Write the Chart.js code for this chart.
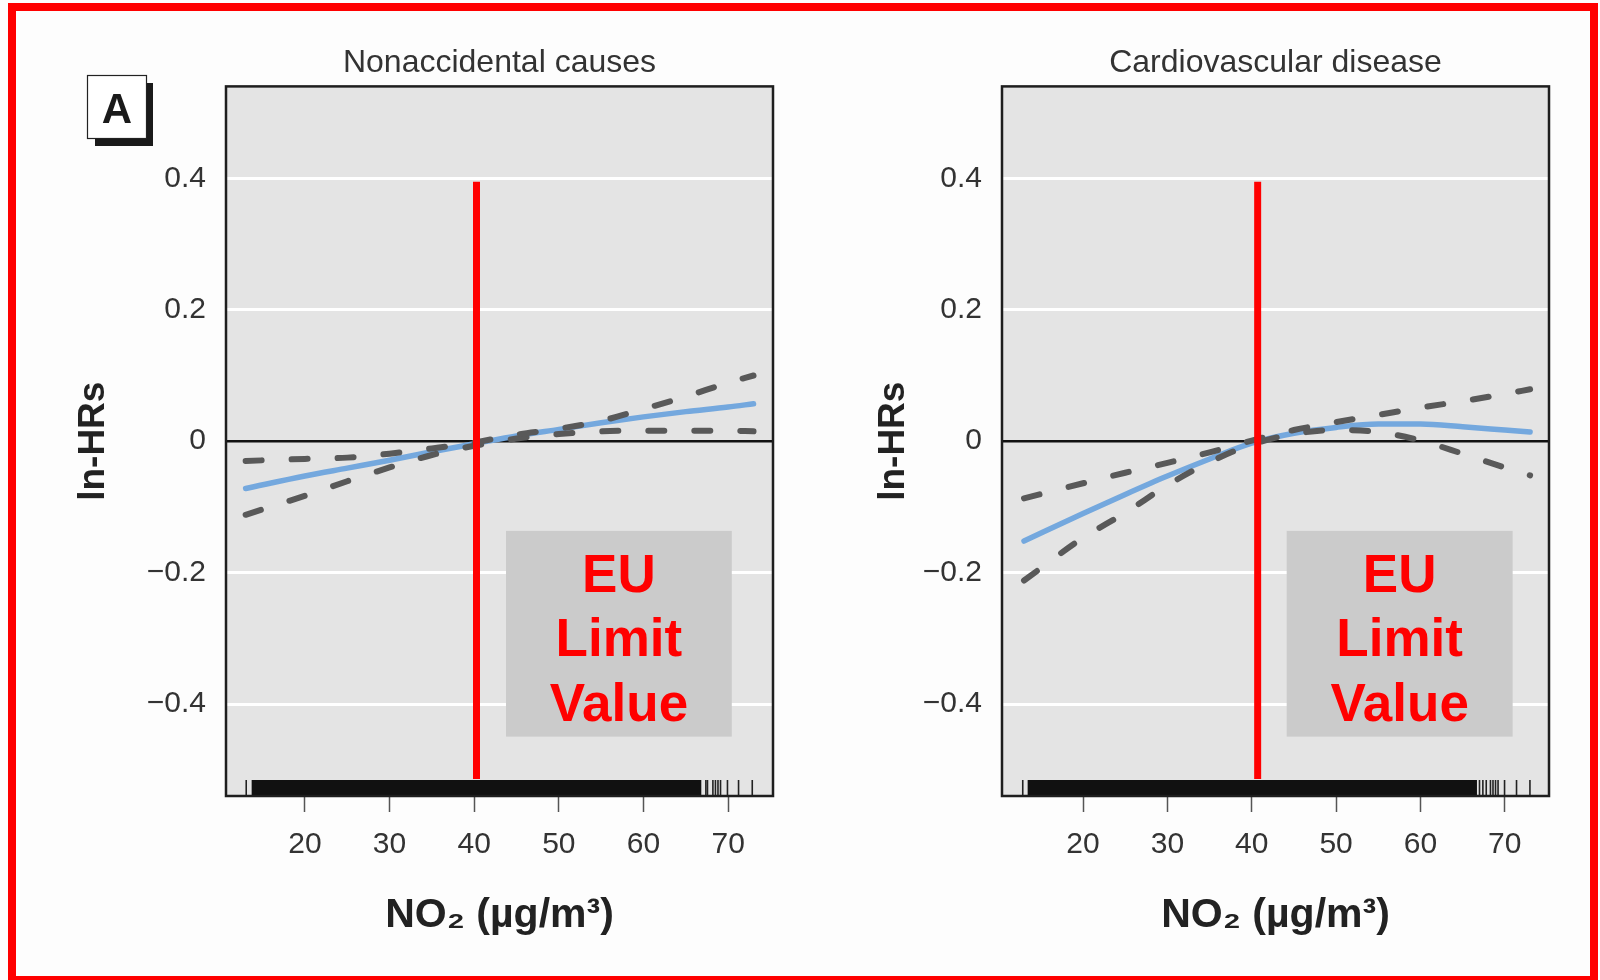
<!DOCTYPE html>
<html>
<head>
<meta charset="utf-8">
<title>ln-HRs vs NO2</title>
<script src="https://cdn.jsdelivr.net/npm/chart.js@4.4.1/dist/chart.umd.min.js"></script>
<style>
  html, body { margin: 0; padding: 0; background: #fdfdfd; overflow: hidden; }
  body { width: 1600px; height: 980px; position: relative; }
  .panel { position: absolute; top: 0; width: 800px; height: 980px; }
  #redFrame { position: absolute; left: 8px; top: 3px; width: 1590px; height: 981px;
              border: 8px solid #ff0000; box-sizing: border-box; pointer-events: none; }
</style>
</head>
<body>
<div class="panel" style="left:0"><canvas id="chartLeft" width="800" height="980"></canvas></div>
<div class="panel" style="left:800px"><canvas id="chartRight" width="800" height="980"></canvas></div>
<div id="redFrame"></div>
<script>
const no2Grid = [13, 20, 25, 30, 35, 40, 45, 50, 55, 60, 65, 70, 73];
const xTickValues = [20, 30, 40, 50, 60, 70];
const yTickValues = [-0.4, -0.2, 0, 0.2, 0.4];

// Nonaccidental causes: estimate and dashed confidence limits
const nonaccEstimate = [-0.072, -0.053, -0.041, -0.029, -0.016, -0.004, 0.008, 0.018, 0.028, 0.037, 0.045, 0.052, 0.057];
const nonaccUpper = [-0.030, -0.027, -0.025, -0.019, -0.011, -0.002, 0.010, 0.019, 0.031, 0.049, 0.068, 0.089, 0.100];
const nonaccLower = [-0.112, -0.083, -0.061, -0.040, -0.021, -0.007, 0.004, 0.011, 0.015, 0.016, 0.016, 0.016, 0.015];
const nonaccRugBand = [13.71, 66.83];
const nonaccRugTicks = [13.07, 67.37, 67.56, 68.2, 68.5, 68.8, 69.1, 69.92, 71.23, 72.85];

// Cardiovascular disease
const cardioEstimate = [-0.152, -0.110, -0.081, -0.053, -0.027, -0.003, 0.012, 0.021, 0.026, 0.026, 0.022, 0.017, 0.014];
const cardioUpper = [-0.087, -0.064, -0.048, -0.033, -0.017, 0.001, 0.017, 0.029, 0.040, 0.051, 0.061, 0.072, 0.079];
const cardioLower = [-0.212, -0.147, -0.109, -0.067, -0.032, -0.005, 0.011, 0.017, 0.014, 0.001, -0.019, -0.040, -0.052];
const cardioRugBand = [13.43, 66.70];
const cardioRugTicks = [12.85, 67.0, 67.4, 67.8, 68.3, 68.6, 68.9, 69.2, 69.97, 71.39, 72.98];

// EU limit value marker (hand drawn in the picture, so slightly off 40)
const euLineX = [40.27, 40.70];
const euLineY = [0.395, -0.514];
const euBoxLeftX = [43.76, 70.43];
const euBoxRightX = [44.14, 70.93];
const euBoxY = [-0.1365, -0.4496];
const euLabel = ['EU', 'Limit', 'Value'];

const plain = "'Liberation Sans', Arial, sans-serif";

function pairs(xs, ys) {
    return xs.map((x, i) => ({ x: x, y: ys[i] }));
}

function tickText(v) {
    if (v === 0) return '0';
    return (v < 0 ? '\u2212' : '') + Math.abs(v).toFixed(1);
}

function makePanel(canvasId, p) {
    // plot background, EU box, rug and frame drawn with the chart's own scales
    const panelPlugin = {
        id: 'panelDecor',
        beforeDraw(chart) {
            const { ctx, chartArea: a } = chart;
            ctx.save();
            ctx.fillStyle = '#e4e4e4';
            ctx.fillRect(a.left, a.top, a.right - a.left, a.bottom - a.top);
            ctx.restore();
        },
        beforeDatasetsDraw(chart) {
            const { ctx, scales: { x, y } } = chart;
            const l = x.getPixelForValue(p.euBoxX[0]);
            const r = x.getPixelForValue(p.euBoxX[1]);
            const t = y.getPixelForValue(euBoxY[0]);
            const b = y.getPixelForValue(euBoxY[1]);
            ctx.save();
            ctx.fillStyle = '#cbcbcb';
            ctx.fillRect(l, t, r - l, b - t);
            ctx.fillStyle = '#ff0000';
            ctx.font = 'bold 53px ' + plain;
            ctx.textAlign = 'center';
            ctx.textBaseline = 'middle';
            const cx = (l + r) / 2, cy = (t + b) / 2 + 8;
            euLabel.forEach((s, i) => ctx.fillText(s, cx, cy + (i - 1) * 64.5));
            ctx.restore();
        },
        afterDatasetsDraw(chart) {
            const { ctx, chartArea: a, scales: { x } } = chart;
            const rugH = 16;
            ctx.save();
            ctx.fillStyle = '#111';
            const b0 = x.getPixelForValue(p.rugBand[0]);
            const b1 = x.getPixelForValue(p.rugBand[1]);
            ctx.fillRect(b0, a.bottom - rugH, b1 - b0, rugH);
            ctx.strokeStyle = '#222';
            ctx.lineWidth = 1.6;
            p.rugTicks.forEach(v => {
                const px = x.getPixelForValue(v);
                ctx.beginPath();
                ctx.moveTo(px, a.bottom - rugH);
                ctx.lineTo(px, a.bottom);
                ctx.stroke();
            });
            ctx.restore();
        },
        afterDraw(chart) {
            const { ctx, chartArea: a } = chart;
            ctx.save();
            ctx.strokeStyle = '#1e1e1e';
            ctx.lineWidth = 2.5;
            ctx.strokeRect(a.left, a.top, a.right - a.left, a.bottom - a.top);
            if (p.badge) {
                ctx.fillStyle = '#1a1a1a';
                ctx.fillRect(95, 83, 58, 63);
                ctx.fillStyle = '#ffffff';
                ctx.fillRect(87.5, 75.5, 59, 63);
                ctx.strokeStyle = '#222';
                ctx.lineWidth = 1.2;
                ctx.strokeRect(87.5, 75.5, 59, 63);
                ctx.fillStyle = '#1a1a1a';
                ctx.font = 'bold 42px ' + plain;
                ctx.textAlign = 'center';
                ctx.textBaseline = 'alphabetic';
                ctx.fillText(p.badge, 117, 123);
            }
            ctx.restore();
        }
    };

    return new Chart(document.getElementById(canvasId), {
        type: 'line',
        data: {
            datasets: [
                {
                    data: pairs([p.euX, p.euX], euLineY),
                    borderColor: '#ff0000', borderWidth: 7, tension: 0, order: 0
                },
                {
                    data: pairs(no2Grid, p.upper),
                    borderColor: '#595959', borderWidth: 6, borderDash: [16, 30],
                    borderCapStyle: 'round', cubicInterpolationMode: 'monotone', order: 1
                },
                {
                    data: pairs(no2Grid, p.lower),
                    borderColor: '#595959', borderWidth: 6, borderDash: [16, 30],
                    borderCapStyle: 'round', cubicInterpolationMode: 'monotone', order: 2
                },
                {
                    data: pairs(no2Grid, p.estimate),
                    borderColor: '#74a8de', borderWidth: 5.5,
                    borderCapStyle: 'round', cubicInterpolationMode: 'monotone', order: 3
                }
            ]
        },
        options: {
            responsive: false,
            animation: false,
            events: [],
            elements: { point: { radius: 0 } },
            layout: { padding: { left: 0, right: p.padRight, top: 0, bottom: 0 } },
            plugins: {
                legend: { display: false },
                tooltip: { enabled: false },
                title: {
                    display: true, text: p.title, fullSize: false, color: '#333',
                    font: { family: plain, size: 32, weight: 'normal' },
                    padding: { top: 44, bottom: 4 }
                }
            },
            scales: {
                x: {
                    type: 'linear', min: p.xMin, max: p.xMax,
                    afterBuildTicks: s => { s.ticks = xTickValues.map(v => ({ value: v })); },
                    afterFit: s => { s.height = 184; },
                    grid: { drawOnChartArea: false, drawTicks: true, tickLength: 16, tickColor: '#555', tickWidth: 1.5 },
                    border: { display: false },
                    ticks: { color: '#333', font: { family: plain, size: 30 }, padding: 15, maxRotation: 0, autoSkip: false },
                    title: {
                        display: true, text: 'NO\u2082 (\u00b5g/m\u00b3)', color: '#222',
                        font: { family: plain, size: 41, weight: 'bold' },
                        padding: { top: 0, bottom: 40 }
                    }
                },
                y: {
                    type: 'linear', min: -0.54, max: 0.54,
                    afterBuildTicks: s => { s.ticks = yTickValues.map(v => ({ value: v })); },
                    afterFit: s => { s.width = p.yWidth; },
                    grid: {
                        drawTicks: false,
                        color: c => (c.tick && c.tick.value === 0) ? '#111' : '#ffffff',
                        lineWidth: c => (c.tick && c.tick.value === 0) ? 2.4 : 3
                    },
                    border: { display: false },
                    ticks: { color: '#333', font: { family: plain, size: 30 }, padding: 20, callback: v => tickText(v) },
                    title: {
                        display: true, text: 'ln-HRs', color: '#222',
                        font: { family: plain, size: 37, weight: 'bold' },
                        padding: { top: 71.5, bottom: 0 }
                    }
                }
            }
        },
        plugins: [panelPlugin]
    });
}

makePanel('chartLeft', {
    title: 'Nonaccidental causes', badge: 'A',
    estimate: nonaccEstimate, upper: nonaccUpper, lower: nonaccLower,
    rugBand: nonaccRugBand, rugTicks: nonaccRugTicks,
    euX: euLineX[0], euBoxX: euBoxLeftX,
    xMin: 10.68, xMax: 75.3, yWidth: 226, padRight: 27
});

makePanel('chartRight', {
    title: 'Cardiovascular disease', badge: null,
    estimate: cardioEstimate, upper: cardioUpper, lower: cardioLower,
    rugBand: cardioRugBand, rugTicks: cardioRugTicks,
    euX: euLineX[1], euBoxX: euBoxRightX,
    xMin: 10.39, xMax: 75.24, yWidth: 202, padRight: 51
});
</script>
</body>
</html>
